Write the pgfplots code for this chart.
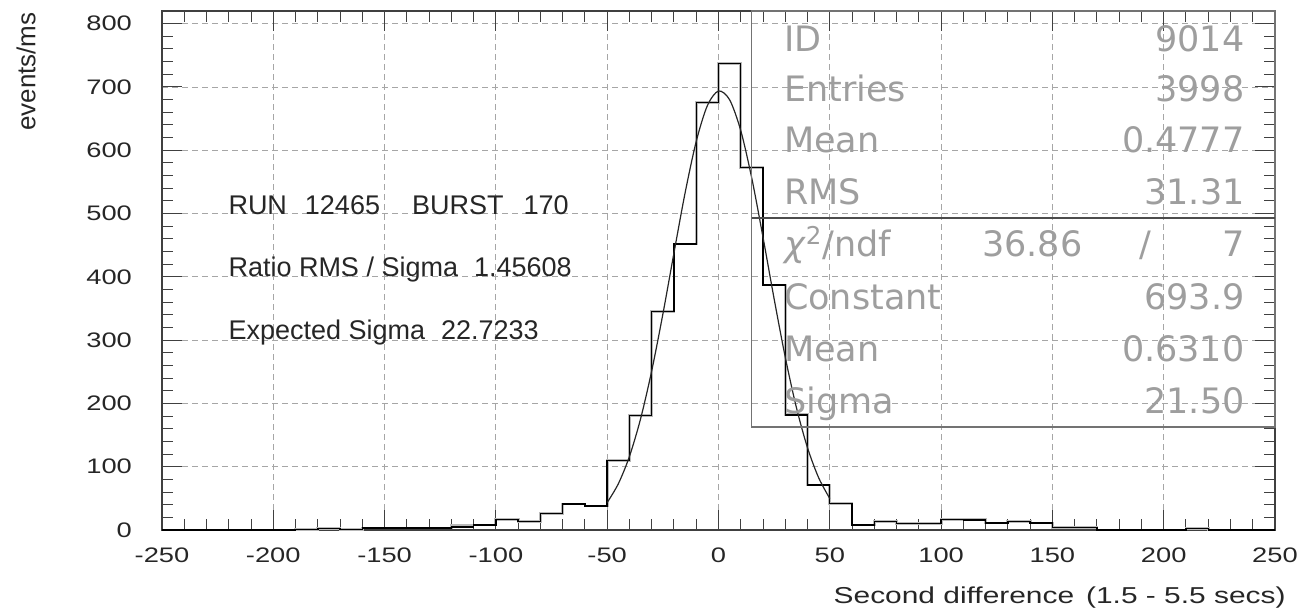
\documentclass[border=0pt]{standalone}
\usepackage{fontspec}
\setmainfont{Liberation Sans}
\newfontfamily\tickfont{Liberation Sans}[FakeStretch=1.3]
\newfontfamily\statfont{DejaVu Sans}
\usepackage{pgfplots}
\pgfplotsset{compat=1.18}
\usetikzlibrary{calc}

\begin{document}
\begin{tikzpicture}
\begin{axis}[
  scale only axis, width=556.5pt, height=259.5pt,
  xmin=-250, xmax=250, ymin=0, ymax=820,
  xtick={-250,-200,...,250},
  xticklabels={-250,-200,-150,-100,-50,0,50,100,150,200,250},
  ytick={0,100,...,800},
  yticklabels={0,100,200,300,400,500,600,700,800},
  minor x tick num=4, minor y tick num=4,
  tick align=inside, tick pos=both,
  major tick length=10pt, minor tick length=5.5pt,
  xmajorgrids, ymajorgrids,
  major grid style={gray!70, line width=0.4pt, dash pattern=on 3pt off 2pt},
  axis line style={black!75, line width=0.8pt},
  every tick/.style={black!75, line width=0.5pt},
  ticklabel style={font=\tickfont\fontsize{10.5}{12}\selectfont, text=black!85},
  xticklabel style={yshift=-5.5pt},
  yticklabel style={xshift=-11.5pt},
  clip=false,
]
% grey under-histogram
\addplot[const plot, draw=gray!55, line width=1.4pt, forget plot] coordinates {
(-250,0) (-240,0) (-230,0) (-220,0) (-210,0) (-200,0) (-190,1) (-180,2) (-170,1)
(-160,3) (-150,3) (-140,3) (-130,3) (-120,8) (-110,8) (-100,17) (-90,13) (-80,26)
(-70,41) (-60,38) (-50,110) (-40,181) (-30,345) (-20,452) (-10,675) (0,737) (10,573)
(20,387) (30,182) (40,71) (50,42) (60,8) (70,13) (80,10) (90,10) (100,17) (110,16)
(120,11) (130,13) (140,11) (150,4) (160,4) (170,0) (180,0) (190,0) (200,0) (210,2)
(220,0) (230,0) (240,0) (250,0)};
% histogram
\addplot[const plot, draw=black, line width=0.7pt] coordinates {
(-250,0) (-240,0) (-230,0) (-220,0) (-210,0) (-200,0) (-190,1) (-180,2) (-170,1)
(-160,3) (-150,3) (-140,3) (-130,3) (-120,5) (-110,8) (-100,17) (-90,13) (-80,26)
(-70,41) (-60,38) (-50,110) (-40,181) (-30,345) (-20,452) (-10,675) (0,737) (10,573)
(20,387) (30,182) (40,71) (50,42) (60,8) (70,13) (80,10) (90,10) (100,17) (110,16)
(120,11) (130,13) (140,11) (150,4) (160,4) (170,0) (180,0) (190,0) (200,0) (210,2)
(220,0) (230,0) (240,0) (250,0)};
% gaussian fit
\addplot[smooth, draw=black!85, line width=0.6pt] coordinates {
(-50,43.4) (-45,73.0) (-40,116.3) (-35,175.7) (-30,251.5) (-25,340.9) (-20,437.9)
(-15,532.7) (-10,614.0) (-5,670.5) (0,693.6) (5,679.7) (10,631.1) (15,555.0)
(20,462.4) (25,365.0) (30,272.9) (35,193.4) (40,129.8) (45,82.5) (50,49.7)};

% stats box
\draw[black!55, line width=0.8pt] (axis cs:14.9,163) rectangle (axis cs:250,820);
\draw[black!70, line width=0.8pt] (axis cs:14.9,493) -- (axis cs:250,493);
\begin{scope}[every node/.style={font=\statfont\fontsize{17.5}{20}\selectfont, text=black!38, inner sep=0pt}]
\node[anchor=base west] at (axis cs:29.3,756) {ID};
\node[anchor=base east] at (axis cs:236.5,756) {9014};
\node[anchor=base west] at (axis cs:29.3,677) {Entries};
\node[anchor=base east] at (axis cs:236.5,677) {3998};
\node[anchor=base west] at (axis cs:29.3,596) {Mean};
\node[anchor=base east] at (axis cs:236.5,596) {0.4777};
\node[anchor=base west] at (axis cs:29.3,514) {RMS};
\node[anchor=base east] at (axis cs:236.5,514) {31.31};
\node[anchor=base west] at (axis cs:29.3,432) {\textit{χ}\textsuperscript{2}/ndf};
\node[anchor=base east] at (axis cs:163.7,432) {36.86};
\node[anchor=base] at (axis cs:191.8,432) {/};
\node[anchor=base east] at (axis cs:236.5,432) {7};
\node[anchor=base west] at (axis cs:29.3,348) {Constant};
\node[anchor=base east] at (axis cs:236.5,348) {693.9};
\node[anchor=base west] at (axis cs:29.3,266) {Mean};
\node[anchor=base east] at (axis cs:236.5,266) {0.6310};
\node[anchor=base west] at (axis cs:29.3,184.5) {Sigma};
\node[anchor=base east] at (axis cs:236.5,184.5) {21.50};
\end{scope}

% annotations
\begin{scope}[every node/.style={font=\fontsize{13.5}{16}\selectfont, text=black!85, inner sep=0pt, anchor=base west}]
\node at (axis cs:-220.3,499) {RUN\hspace{9pt}12465\hspace{16pt}BURST\hspace{10pt}170};
\node at (axis cs:-220.3,400.5) {Ratio RMS / Sigma\hspace{8pt}1.45608};
\node at (axis cs:-220.3,301.5) {Expected Sigma\hspace{8pt}22.7233};
\end{scope}
\end{axis}
\node[rotate=90, anchor=east, inner sep=0pt, font=\fontsize{13}{15}\selectfont, text=black!85]
  at ($(current axis.south west)+(-68pt,259pt)$) {events/ms};
\node[anchor=base east, inner sep=0pt, font=\tickfont\fontsize{11.5}{13}\selectfont, text=black!85]
  at ($(current axis.south west)+(562pt,-37pt)$) {Second difference\hspace{6pt}(1.5 - 5.5 secs)};
\pgfresetboundingbox
\path ($(current axis.south west)+(-81pt,-42pt)$) rectangle ($(current axis.south west)+(570pt,265pt)$);
\end{tikzpicture}
\end{document}
